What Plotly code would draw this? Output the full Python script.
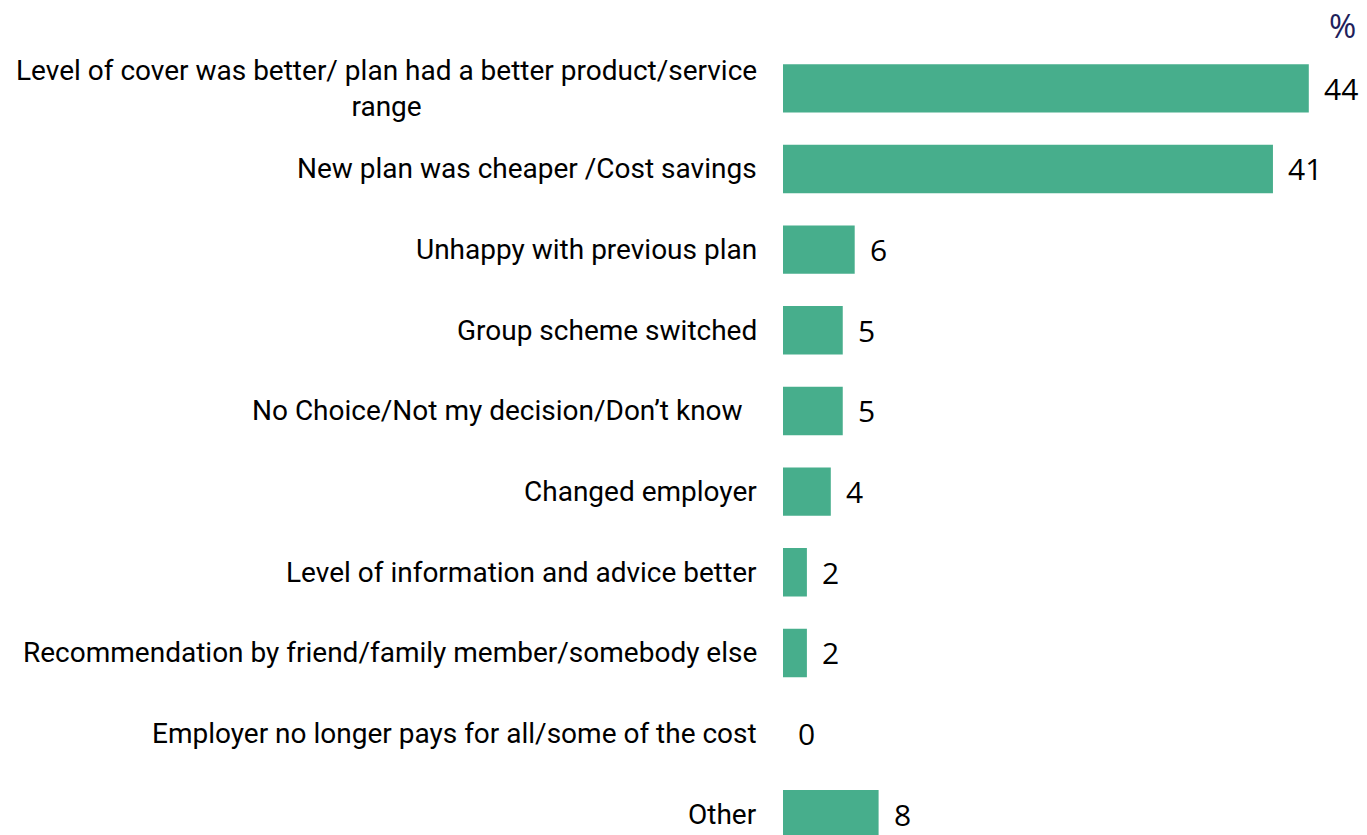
import plotly.graph_objects as go

categories = [
    "Level of cover was better/ plan had a better product/service<br>range",
    "New plan was cheaper /Cost savings",
    "Unhappy with previous plan",
    "Group scheme switched",
    "No Choice/Not my decision/Don\u2019t know  ",
    "Changed employer",
    "Level of information and advice better",
    "Recommendation by friend/family member/somebody else",
    "Employer no longer pays for all/some of the cost",
    "Other",
]
values = [44, 41, 6, 5, 5, 4, 2, 2, 0, 8]
value_labels = ["44", "41", "6", "5", "5", "4", "2", "2", "0", "8"]

OFF = 8  # page body margin
W, H = 1367 - OFF, 835 - OFF
LEFT = 783 - OFF
top_margin = 47.6 - OFF
step = 80.7
plot_h = H - top_margin
n_visible = plot_h / step
y_top = -0.5
y_bot = y_top + n_visible
x_max = (W - LEFT) / 11.95

ypos = list(range(len(categories)))

fig = go.Figure()
fig.add_trace(go.Bar(
    x=values, y=ypos, orientation="h",
    marker=dict(color="#47AE8C", line=dict(width=0)),
    width=0.6, hoverinfo="skip",
))

for yi, cat in zip(ypos, categories):
    fig.add_annotation(
        x=0, y=yi, xref="x", yref="y", text=cat, showarrow=False,
        xanchor="right", yanchor="middle", align="center", xshift=-24,
        font=dict(family="Roboto, sans-serif", size=28, color="#000000"),
    )
for yi, v, lab in zip(ypos, values, value_labels):
    fig.add_annotation(
        x=v, y=yi, xref="x", yref="y", text=lab, showarrow=False,
        xanchor="left", yanchor="middle", xshift=13,
        font=dict(family="Open Sans, sans-serif", size=30, color="#000000"),
    )

fig.add_annotation(
    x=(1342 - OFF - LEFT) / (W - LEFT), y=1 + (top_margin - (25 - OFF)) / plot_h,
    xref="paper", yref="paper", text="%", showarrow=False,
    xanchor="center", yanchor="middle", height=30, valign="middle",
    font=dict(family="Open Sans, sans-serif", size=33, color="#1F1F5C"),
)

fig.update_layout(
    width=W, height=H,
    margin=dict(l=LEFT, r=0, t=top_margin, b=0, pad=0),
    plot_bgcolor="white", paper_bgcolor="white",
    showlegend=False,
    xaxis=dict(range=[0, x_max], visible=False, fixedrange=True),
    yaxis=dict(range=[y_bot, y_top], visible=False, fixedrange=True),
)
fig.update_traces(cliponaxis=True)

fig.write_html("out.html")
